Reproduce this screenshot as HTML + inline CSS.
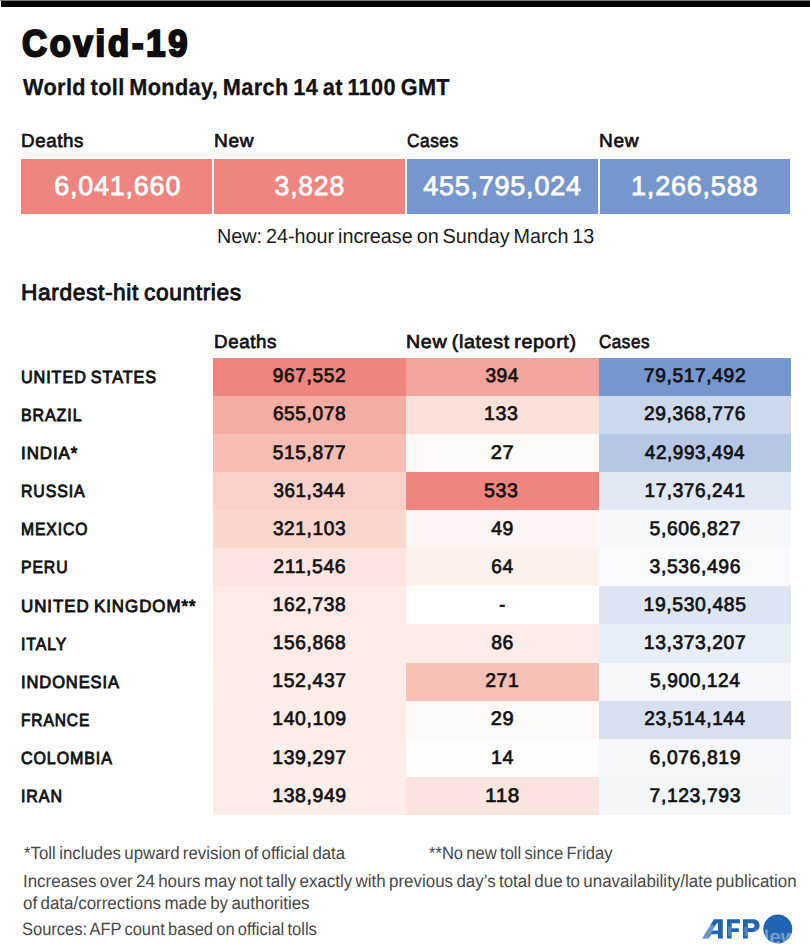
<!DOCTYPE html><html><head><meta charset="utf-8"><style>
*{margin:0;padding:0;box-sizing:border-box}html,body{width:810px;height:950px;background:#fff;overflow:hidden}
body{position:relative;font-family:"Liberation Sans", sans-serif;text-rendering:geometricPrecision}
.r{position:absolute}
.t{position:absolute;white-space:nowrap;word-spacing:-0.08em}
.t span{display:inline-block}
.rg{font-weight:400}.sb{font-weight:400}.bk{font-weight:700}
</style></head><body>
<div class="r" style="left:0;top:0;width:810px;height:1px;background:#808080"></div>
<div class="r" style="left:1px;top:1px;width:809px;height:6px;background:#000"></div>
<div class="r" style="left:21px;top:159px;width:191px;height:55px;background:#f0847e"></div>
<div class="r" style="left:214px;top:159px;width:191px;height:55px;background:#f0847e"></div>
<div class="r" style="left:407px;top:159px;width:190.5px;height:55px;background:#7697ce"></div>
<div class="r" style="left:599.7px;top:159px;width:190.3px;height:55px;background:#7697ce"></div>
<div class="r" style="left:213px;top:358px;width:193px;height:38px;background:#f0847e"></div>
<div class="r" style="left:406px;top:358px;width:192.5px;height:38px;background:#f4a49b"></div>
<div class="r" style="left:598.5px;top:358px;width:192.5px;height:38px;background:#7697ce"></div>
<div class="r" style="left:213px;top:396px;width:193px;height:38px;background:#f5aca2"></div>
<div class="r" style="left:406px;top:396px;width:192.5px;height:38px;background:#fbe0da"></div>
<div class="r" style="left:598.5px;top:396px;width:192.5px;height:38px;background:#ccd9ed"></div>
<div class="r" style="left:213px;top:434px;width:193px;height:38px;background:#f7bdb4"></div>
<div class="r" style="left:406px;top:434px;width:192.5px;height:38px;background:#fef9f7"></div>
<div class="r" style="left:598.5px;top:434px;width:192.5px;height:38px;background:#b5c7e5"></div>
<div class="r" style="left:213px;top:472px;width:193px;height:38px;background:#f9d1c9"></div>
<div class="r" style="left:406px;top:472px;width:192.5px;height:38px;background:#f0847e"></div>
<div class="r" style="left:598.5px;top:472px;width:192.5px;height:38px;background:#e1e8f4"></div>
<div class="r" style="left:213px;top:510px;width:193px;height:38px;background:#fad6cf"></div>
<div class="r" style="left:406px;top:510px;width:192.5px;height:38px;background:#fef4f1"></div>
<div class="r" style="left:598.5px;top:510px;width:192.5px;height:38px;background:#f5f8fc"></div>
<div class="r" style="left:213px;top:548px;width:193px;height:38px;background:#fce4df"></div>
<div class="r" style="left:406px;top:548px;width:192.5px;height:38px;background:#fdf0ed"></div>
<div class="r" style="left:598.5px;top:548px;width:192.5px;height:38px;background:#f9fafd"></div>
<div class="r" style="left:213px;top:586px;width:193px;height:38px;background:#fceae6"></div>
<div class="r" style="left:406px;top:586px;width:192.5px;height:38px;background:#ffffff"></div>
<div class="r" style="left:598.5px;top:586px;width:192.5px;height:38px;background:#dde5f3"></div>
<div class="r" style="left:213px;top:624px;width:193px;height:39px;background:#fdebe7"></div>
<div class="r" style="left:406px;top:624px;width:192.5px;height:39px;background:#fdebe7"></div>
<div class="r" style="left:598.5px;top:624px;width:192.5px;height:39px;background:#e8eef7"></div>
<div class="r" style="left:213px;top:663px;width:193px;height:38px;background:#fdece7"></div>
<div class="r" style="left:406px;top:663px;width:192.5px;height:38px;background:#f7c0b7"></div>
<div class="r" style="left:598.5px;top:663px;width:192.5px;height:38px;background:#f5f7fb"></div>
<div class="r" style="left:213px;top:701px;width:193px;height:38px;background:#fdede9"></div>
<div class="r" style="left:406px;top:701px;width:192.5px;height:38px;background:#fef8f7"></div>
<div class="r" style="left:598.5px;top:701px;width:192.5px;height:38px;background:#d6e0f1"></div>
<div class="r" style="left:213px;top:739px;width:193px;height:38px;background:#fdede9"></div>
<div class="r" style="left:406px;top:739px;width:192.5px;height:38px;background:#fffcfb"></div>
<div class="r" style="left:598.5px;top:739px;width:192.5px;height:38px;background:#f5f7fb"></div>
<div class="r" style="left:213px;top:777px;width:193px;height:38px;background:#fdedea"></div>
<div class="r" style="left:406px;top:777px;width:192.5px;height:38px;background:#fce4de"></div>
<div class="r" style="left:598.5px;top:777px;width:192.5px;height:38px;background:#f3f6fb"></div>
<div class="t bk" id="title" style="font-size:37.2px;line-height:37.2px;height:37.2px;color:#0d0d0d;top:25.36px;-webkit-text-stroke:2.3px #0d0d0d;letter-spacing:3px;left:22.38px;"><span style="transform:scaleX(0.9289);transform-origin:0 0">Covid-19</span></div>
<div class="t bk" id="sub" style="font-size:23.2px;line-height:23.2px;height:23.2px;color:#111;top:75.81px;-webkit-text-stroke:0.3px #111;letter-spacing:0.4px;left:22.52px;"><span style="transform:scaleX(0.9351);transform-origin:0 0">World toll Monday, March 14 at 1100 GMT</span></div>
<div class="t sb" id="lab0" style="font-size:18.8px;line-height:18.8px;height:18.8px;color:#111;top:132.34px;-webkit-text-stroke:0.7px #111;letter-spacing:0.6px;left:20.91px;"><span style="transform:scaleX(0.9981);transform-origin:0 0">Deaths</span></div>
<div class="t sb" id="lab1" style="font-size:18.8px;line-height:18.8px;height:18.8px;color:#111;top:132.34px;-webkit-text-stroke:0.7px #111;letter-spacing:0.6px;left:213.53px;"><span style="transform:scaleX(1.0180);transform-origin:0 0">New</span></div>
<div class="t sb" id="lab2" style="font-size:18.8px;line-height:18.8px;height:18.8px;color:#111;top:132.34px;-webkit-text-stroke:0.7px #111;letter-spacing:0.6px;left:406.76px;"><span style="transform:scaleX(0.9189);transform-origin:0 0">Cases</span></div>
<div class="t sb" id="lab3" style="font-size:18.8px;line-height:18.8px;height:18.8px;color:#111;top:132.34px;-webkit-text-stroke:0.7px #111;letter-spacing:0.6px;left:598.53px;"><span style="transform:scaleX(1.0180);transform-origin:0 0">New</span></div>
<div class="t sb" id="big0" style="font-size:27px;line-height:27px;height:27px;color:#ffffff;top:172.94px;-webkit-text-stroke:0.8px #ffffff;letter-spacing:0.8px;left:-32.24px;width:300px;text-align:center;"><span style="transform:scaleX(0.9980);transform-origin:50% 0">6,041,660</span></div>
<div class="t sb" id="big1" style="font-size:27px;line-height:27px;height:27px;color:#ffffff;top:172.94px;-webkit-text-stroke:0.8px #ffffff;letter-spacing:0.8px;left:159.93px;width:300px;text-align:center;"><span style="transform:scaleX(0.9832);transform-origin:50% 0">3,828</span></div>
<div class="t sb" id="big2" style="font-size:27px;line-height:27px;height:27px;color:#ffffff;top:172.94px;-webkit-text-stroke:0.8px #ffffff;letter-spacing:0.8px;left:352.62px;width:300px;text-align:center;"><span style="transform:scaleX(0.9964);transform-origin:50% 0">455,795,024</span></div>
<div class="t sb" id="big3" style="font-size:27px;line-height:27px;height:27px;color:#ffffff;top:172.94px;-webkit-text-stroke:0.8px #ffffff;letter-spacing:0.8px;left:544.77px;width:300px;text-align:center;"><span style="transform:scaleX(0.9989);transform-origin:50% 0">1,266,588</span></div>
<div class="t rg" id="note" style="font-size:20.5px;line-height:20.5px;height:20.5px;color:#1a1a1a;top:226.65px;left:216.96px;"><span style="transform:scaleX(0.9644);transform-origin:0 0">New: 24-hour increase on Sunday March 13</span></div>
<div class="t sb" id="hh" style="font-size:22.7px;line-height:22.7px;height:22.7px;color:#111;top:280.83px;-webkit-text-stroke:0.9px #111;letter-spacing:0.6px;left:20.96px;"><span style="transform:scaleX(1.0030);transform-origin:0 0">Hardest-hit countries</span></div>
<div class="t sb" id="th0" style="font-size:18.8px;line-height:18.8px;height:18.8px;color:#111;top:332.74px;-webkit-text-stroke:0.7px #111;letter-spacing:0.6px;left:213.72px;"><span style="transform:scaleX(0.9981);transform-origin:0 0">Deaths</span></div>
<div class="t sb" id="th1" style="font-size:18.8px;line-height:18.8px;height:18.8px;color:#111;top:332.74px;-webkit-text-stroke:0.7px #111;letter-spacing:0.6px;left:406.10px;"><span style="transform:scaleX(1.0476);transform-origin:0 0">New (latest report)</span></div>
<div class="t sb" id="th2" style="font-size:18.8px;line-height:18.8px;height:18.8px;color:#111;top:332.74px;-webkit-text-stroke:0.7px #111;letter-spacing:0.6px;left:599.43px;"><span style="transform:scaleX(0.9059);transform-origin:0 0">Cases</span></div>
<div class="t sb" id="c0" style="font-size:17.7px;line-height:17.7px;height:17.7px;color:#111;top:368.77px;-webkit-text-stroke:0.9px #111;letter-spacing:1px;left:21.43px;"><span style="transform:scaleX(0.9152);transform-origin:0 0">UNITED STATES</span></div>
<div class="t sb" id="n0_0" style="font-size:19.6px;line-height:19.6px;height:19.6px;color:#111;top:367.26px;-webkit-text-stroke:0.7px #111;letter-spacing:0.6px;left:159.50px;width:300px;text-align:center;"><span style="transform:scaleX(0.9775);transform-origin:50% 0">967,552</span></div>
<div class="t sb" id="n0_1" style="font-size:19.6px;line-height:19.6px;height:19.6px;color:#111;top:367.26px;-webkit-text-stroke:0.7px #111;letter-spacing:0.6px;left:352.02px;width:300px;text-align:center;"><span style="transform:scaleX(0.9780);transform-origin:50% 0">394</span></div>
<div class="t sb" id="n0_2" style="font-size:19.6px;line-height:19.6px;height:19.6px;color:#111;top:367.26px;-webkit-text-stroke:0.7px #111;letter-spacing:0.6px;left:545.42px;width:300px;text-align:center;"><span style="transform:scaleX(0.9834);transform-origin:50% 0">79,517,492</span></div>
<div class="t sb" id="c1" style="font-size:17.7px;line-height:17.7px;height:17.7px;color:#111;top:406.90px;-webkit-text-stroke:0.9px #111;letter-spacing:1px;left:21.43px;"><span style="transform:scaleX(0.9045);transform-origin:0 0">BRAZIL</span></div>
<div class="t sb" id="n1_0" style="font-size:19.6px;line-height:19.6px;height:19.6px;color:#111;top:405.39px;-webkit-text-stroke:0.7px #111;letter-spacing:0.6px;left:159.50px;width:300px;text-align:center;"><span style="transform:scaleX(0.9764);transform-origin:50% 0">655,078</span></div>
<div class="t sb" id="n1_1" style="font-size:19.6px;line-height:19.6px;height:19.6px;color:#111;top:405.39px;-webkit-text-stroke:0.7px #111;letter-spacing:0.6px;left:351.57px;width:300px;text-align:center;"><span style="transform:scaleX(0.9992);transform-origin:50% 0">133</span></div>
<div class="t sb" id="n1_2" style="font-size:19.6px;line-height:19.6px;height:19.6px;color:#111;top:405.39px;-webkit-text-stroke:0.7px #111;letter-spacing:0.6px;left:545.42px;width:300px;text-align:center;"><span style="transform:scaleX(0.9804);transform-origin:50% 0">29,368,776</span></div>
<div class="t sb" id="c2" style="font-size:17.7px;line-height:17.7px;height:17.7px;color:#111;top:445.03px;-webkit-text-stroke:0.9px #111;letter-spacing:1px;left:20.53px;"><span style="transform:scaleX(0.9552);transform-origin:0 0">INDIA*</span></div>
<div class="t sb" id="n2_0" style="font-size:19.6px;line-height:19.6px;height:19.6px;color:#111;top:443.52px;-webkit-text-stroke:0.7px #111;letter-spacing:0.6px;left:159.50px;width:300px;text-align:center;"><span style="transform:scaleX(0.9769);transform-origin:50% 0">515,877</span></div>
<div class="t sb" id="n2_1" style="font-size:19.6px;line-height:19.6px;height:19.6px;color:#111;top:443.52px;-webkit-text-stroke:0.7px #111;letter-spacing:0.6px;left:352.48px;width:300px;text-align:center;"><span style="transform:scaleX(1.0222);transform-origin:50% 0">27</span></div>
<div class="t sb" id="n2_2" style="font-size:19.6px;line-height:19.6px;height:19.6px;color:#111;top:443.52px;-webkit-text-stroke:0.7px #111;letter-spacing:0.6px;left:545.42px;width:300px;text-align:center;"><span style="transform:scaleX(0.9641);transform-origin:50% 0">42,993,494</span></div>
<div class="t sb" id="c3" style="font-size:17.7px;line-height:17.7px;height:17.7px;color:#111;top:483.16px;-webkit-text-stroke:0.9px #111;letter-spacing:1px;left:21.43px;"><span style="transform:scaleX(0.8984);transform-origin:0 0">RUSSIA</span></div>
<div class="t sb" id="n3_0" style="font-size:19.6px;line-height:19.6px;height:19.6px;color:#111;top:481.65px;-webkit-text-stroke:0.7px #111;letter-spacing:0.6px;left:159.05px;width:300px;text-align:center;"><span style="transform:scaleX(0.9622);transform-origin:50% 0">361,344</span></div>
<div class="t sb" id="n3_1" style="font-size:19.6px;line-height:19.6px;height:19.6px;color:#111;top:481.65px;-webkit-text-stroke:0.7px #111;letter-spacing:0.6px;left:351.57px;width:300px;text-align:center;"><span style="transform:scaleX(0.9992);transform-origin:50% 0">533</span></div>
<div class="t sb" id="n3_2" style="font-size:19.6px;line-height:19.6px;height:19.6px;color:#111;top:481.65px;-webkit-text-stroke:0.7px #111;letter-spacing:0.6px;left:544.98px;width:300px;text-align:center;"><span style="transform:scaleX(0.9718);transform-origin:50% 0">17,376,241</span></div>
<div class="t sb" id="c4" style="font-size:17.7px;line-height:17.7px;height:17.7px;color:#111;top:521.29px;-webkit-text-stroke:0.9px #111;letter-spacing:1px;left:21.43px;"><span style="transform:scaleX(0.8873);transform-origin:0 0">MEXICO</span></div>
<div class="t sb" id="n4_0" style="font-size:19.6px;line-height:19.6px;height:19.6px;color:#111;top:519.78px;-webkit-text-stroke:0.7px #111;letter-spacing:0.6px;left:159.50px;width:300px;text-align:center;"><span style="transform:scaleX(0.9766);transform-origin:50% 0">321,103</span></div>
<div class="t sb" id="n4_1" style="font-size:19.6px;line-height:19.6px;height:19.6px;color:#111;top:519.78px;-webkit-text-stroke:0.7px #111;letter-spacing:0.6px;left:352.93px;width:300px;text-align:center;"><span style="transform:scaleX(0.9875);transform-origin:50% 0">49</span></div>
<div class="t sb" id="n4_2" style="font-size:19.6px;line-height:19.6px;height:19.6px;color:#111;top:519.78px;-webkit-text-stroke:0.7px #111;letter-spacing:0.6px;left:544.98px;width:300px;text-align:center;"><span style="transform:scaleX(0.9873);transform-origin:50% 0">5,606,827</span></div>
<div class="t sb" id="c5" style="font-size:17.7px;line-height:17.7px;height:17.7px;color:#111;top:559.42px;-webkit-text-stroke:0.9px #111;letter-spacing:1px;left:21.43px;"><span style="transform:scaleX(0.8937);transform-origin:0 0">PERU</span></div>
<div class="t sb" id="n5_0" style="font-size:19.6px;line-height:19.6px;height:19.6px;color:#111;top:557.91px;-webkit-text-stroke:0.7px #111;letter-spacing:0.6px;left:159.95px;width:300px;text-align:center;"><span style="transform:scaleX(0.9920);transform-origin:50% 0">211,546</span></div>
<div class="t sb" id="n5_1" style="font-size:19.6px;line-height:19.6px;height:19.6px;color:#111;top:557.91px;-webkit-text-stroke:0.7px #111;letter-spacing:0.6px;left:352.48px;width:300px;text-align:center;"><span style="transform:scaleX(0.9752);transform-origin:50% 0">64</span></div>
<div class="t sb" id="n5_2" style="font-size:19.6px;line-height:19.6px;height:19.6px;color:#111;top:557.91px;-webkit-text-stroke:0.7px #111;letter-spacing:0.6px;left:544.98px;width:300px;text-align:center;"><span style="transform:scaleX(0.9873);transform-origin:50% 0">3,536,496</span></div>
<div class="t sb" id="c6" style="font-size:17.7px;line-height:17.7px;height:17.7px;color:#111;top:597.55px;-webkit-text-stroke:0.9px #111;letter-spacing:1px;left:21.43px;"><span style="transform:scaleX(0.9559);transform-origin:0 0">UNITED KINGDOM**</span></div>
<div class="t sb" id="n6_0" style="font-size:19.6px;line-height:19.6px;height:19.6px;color:#111;top:596.04px;-webkit-text-stroke:0.7px #111;letter-spacing:0.6px;left:159.50px;width:300px;text-align:center;"><span style="transform:scaleX(0.9775);transform-origin:50% 0">162,738</span></div>
<div class="t sb" id="n6_1" style="font-size:19.6px;line-height:19.6px;height:19.6px;color:#111;top:596.04px;-webkit-text-stroke:0.7px #111;letter-spacing:0.6px;left:352.93px;width:300px;text-align:center;"><span style="transform:scaleX(0.9068);transform-origin:50% 0">-</span></div>
<div class="t sb" id="n6_2" style="font-size:19.6px;line-height:19.6px;height:19.6px;color:#111;top:596.04px;-webkit-text-stroke:0.7px #111;letter-spacing:0.6px;left:544.98px;width:300px;text-align:center;"><span style="transform:scaleX(0.9895);transform-origin:50% 0">19,530,485</span></div>
<div class="t sb" id="c7" style="font-size:17.7px;line-height:17.7px;height:17.7px;color:#111;top:635.68px;-webkit-text-stroke:0.9px #111;letter-spacing:1px;left:20.53px;"><span style="transform:scaleX(0.8955);transform-origin:0 0">ITALY</span></div>
<div class="t sb" id="n7_0" style="font-size:19.6px;line-height:19.6px;height:19.6px;color:#111;top:634.17px;-webkit-text-stroke:0.7px #111;letter-spacing:0.6px;left:159.50px;width:300px;text-align:center;"><span style="transform:scaleX(0.9775);transform-origin:50% 0">156,868</span></div>
<div class="t sb" id="n7_1" style="font-size:19.6px;line-height:19.6px;height:19.6px;color:#111;top:634.17px;-webkit-text-stroke:0.7px #111;letter-spacing:0.6px;left:352.93px;width:300px;text-align:center;"><span style="transform:scaleX(0.9875);transform-origin:50% 0">86</span></div>
<div class="t sb" id="n7_2" style="font-size:19.6px;line-height:19.6px;height:19.6px;color:#111;top:634.17px;-webkit-text-stroke:0.7px #111;letter-spacing:0.6px;left:545.42px;width:300px;text-align:center;"><span style="transform:scaleX(0.9836);transform-origin:50% 0">13,373,207</span></div>
<div class="t sb" id="c8" style="font-size:17.7px;line-height:17.7px;height:17.7px;color:#111;top:673.81px;-webkit-text-stroke:0.9px #111;letter-spacing:1px;left:20.53px;"><span style="transform:scaleX(0.9305);transform-origin:0 0">INDONESIA</span></div>
<div class="t sb" id="n8_0" style="font-size:19.6px;line-height:19.6px;height:19.6px;color:#111;top:672.30px;-webkit-text-stroke:0.7px #111;letter-spacing:0.6px;left:159.05px;width:300px;text-align:center;"><span style="transform:scaleX(0.9912);transform-origin:50% 0">152,437</span></div>
<div class="t sb" id="n8_1" style="font-size:19.6px;line-height:19.6px;height:19.6px;color:#111;top:672.30px;-webkit-text-stroke:0.7px #111;letter-spacing:0.6px;left:352.02px;width:300px;text-align:center;"><span style="transform:scaleX(0.9885);transform-origin:50% 0">271</span></div>
<div class="t sb" id="n8_2" style="font-size:19.6px;line-height:19.6px;height:19.6px;color:#111;top:672.30px;-webkit-text-stroke:0.7px #111;letter-spacing:0.6px;left:545.42px;width:300px;text-align:center;"><span style="transform:scaleX(0.9770);transform-origin:50% 0">5,900,124</span></div>
<div class="t sb" id="c9" style="font-size:17.7px;line-height:17.7px;height:17.7px;color:#111;top:711.94px;-webkit-text-stroke:0.9px #111;letter-spacing:1px;left:21.43px;"><span style="transform:scaleX(0.8783);transform-origin:0 0">FRANCE</span></div>
<div class="t sb" id="n9_0" style="font-size:19.6px;line-height:19.6px;height:19.6px;color:#111;top:710.43px;-webkit-text-stroke:0.7px #111;letter-spacing:0.6px;left:159.05px;width:300px;text-align:center;"><span style="transform:scaleX(0.9912);transform-origin:50% 0">140,109</span></div>
<div class="t sb" id="n9_1" style="font-size:19.6px;line-height:19.6px;height:19.6px;color:#111;top:710.43px;-webkit-text-stroke:0.7px #111;letter-spacing:0.6px;left:352.48px;width:300px;text-align:center;"><span style="transform:scaleX(1.0222);transform-origin:50% 0">29</span></div>
<div class="t sb" id="n9_2" style="font-size:19.6px;line-height:19.6px;height:19.6px;color:#111;top:710.43px;-webkit-text-stroke:0.7px #111;letter-spacing:0.6px;left:544.98px;width:300px;text-align:center;"><span style="transform:scaleX(0.9747);transform-origin:50% 0">23,514,144</span></div>
<div class="t sb" id="c10" style="font-size:17.7px;line-height:17.7px;height:17.7px;color:#111;top:750.07px;-webkit-text-stroke:0.9px #111;letter-spacing:1px;left:21.43px;"><span style="transform:scaleX(0.9052);transform-origin:0 0">COLOMBIA</span></div>
<div class="t sb" id="n10_0" style="font-size:19.6px;line-height:19.6px;height:19.6px;color:#111;top:748.56px;-webkit-text-stroke:0.7px #111;letter-spacing:0.6px;left:159.05px;width:300px;text-align:center;"><span style="transform:scaleX(0.9912);transform-origin:50% 0">139,297</span></div>
<div class="t sb" id="n10_1" style="font-size:19.6px;line-height:19.6px;height:19.6px;color:#111;top:748.56px;-webkit-text-stroke:0.7px #111;letter-spacing:0.6px;left:352.02px;width:300px;text-align:center;"><span style="transform:scaleX(1.0064);transform-origin:50% 0">14</span></div>
<div class="t sb" id="n10_2" style="font-size:19.6px;line-height:19.6px;height:19.6px;color:#111;top:748.56px;-webkit-text-stroke:0.7px #111;letter-spacing:0.6px;left:544.98px;width:300px;text-align:center;"><span style="transform:scaleX(0.9873);transform-origin:50% 0">6,076,819</span></div>
<div class="t sb" id="c11" style="font-size:17.7px;line-height:17.7px;height:17.7px;color:#111;top:788.20px;-webkit-text-stroke:0.9px #111;letter-spacing:1px;left:20.53px;"><span style="transform:scaleX(0.9044);transform-origin:0 0">IRAN</span></div>
<div class="t sb" id="n11_0" style="font-size:19.6px;line-height:19.6px;height:19.6px;color:#111;top:786.69px;-webkit-text-stroke:0.7px #111;letter-spacing:0.6px;left:159.05px;width:300px;text-align:center;"><span style="transform:scaleX(0.9912);transform-origin:50% 0">138,949</span></div>
<div class="t sb" id="n11_1" style="font-size:19.6px;line-height:19.6px;height:19.6px;color:#111;top:786.69px;-webkit-text-stroke:0.7px #111;letter-spacing:0.6px;left:352.48px;width:300px;text-align:center;"><span style="transform:scaleX(1.0565);transform-origin:50% 0">118</span></div>
<div class="t sb" id="n11_2" style="font-size:19.6px;line-height:19.6px;height:19.6px;color:#111;top:786.69px;-webkit-text-stroke:0.7px #111;letter-spacing:0.6px;left:544.98px;width:300px;text-align:center;"><span style="transform:scaleX(0.9873);transform-origin:50% 0">7,123,793</span></div>
<div class="t rg" id="f1" style="font-size:17.8px;line-height:17.8px;height:17.8px;color:#484848;top:845.23px;left:23.81px;"><span style="transform:scaleX(0.9473);transform-origin:0 0">*Toll includes upward revision of official data</span></div>
<div class="t rg" id="f2" style="font-size:17.8px;line-height:17.8px;height:17.8px;color:#484848;top:845.23px;left:429.38px;"><span style="transform:scaleX(0.9320);transform-origin:0 0">**No new toll since Friday</span></div>
<div class="t rg" id="f3" style="font-size:17.8px;line-height:17.8px;height:17.8px;color:#484848;top:872.53px;left:22.91px;"><span style="transform:scaleX(0.9521);transform-origin:0 0">Increases over 24 hours may not tally exactly with previous day’s total due to unavailability/late publication</span></div>
<div class="t rg" id="f4" style="font-size:17.8px;line-height:17.8px;height:17.8px;color:#484848;top:894.73px;left:23.38px;"><span style="transform:scaleX(0.9531);transform-origin:0 0">of data/corrections made by authorities</span></div>
<div class="t rg" id="f5" style="font-size:17.8px;line-height:17.8px;height:17.8px;color:#484848;top:921.03px;left:22.15px;"><span style="transform:scaleX(0.9273);transform-origin:0 0">Sources: AFP count based on official tolls</span></div>
<svg class="r" style="left:0;top:0" width="810" height="950" viewBox="0 0 810 950">
<g fill="#2063b1">
<path fill-rule="evenodd" d="M702.2 938.6 L713.9 919.2 H722.8 V938.6 H718 V934.2 H711.4 L708.7 938.6 Z M712.5 930.6 H718 V923.3 H716.9 Z"/>
<polygon points="727,919.2 740,919.2 740,923.3 731.7,923.3 731.7,928.2 738.9,928.2 738.9,932 731.7,932 731.7,938.6 727,938.6"/>
<path fill-rule="evenodd" d="M743 919.2 H752.6 C757.2 919.2 759.6 921.9 759.6 925.6 C759.6 929.4 757.2 932 752.6 932 H747.8 V938.4 H743 Z M747.8 923.2 V928 H752.2 C753.7 928 754.6 927.1 754.6 925.6 C754.6 924.1 753.7 923.2 752.2 923.2 Z"/>
<circle cx="777.8" cy="929" r="14.5"/>
</g>
<polygon points="710.2,925.2 715.6,925.2 708.4,938.8 702,938.8" fill="#fff" fill-opacity="0.33"/>
<rect x="727.8" y="926.5" width="3.6" height="9.5" fill="#fff" fill-opacity="0.22"/>
<rect x="744.5" y="927" width="3" height="9" fill="#fff" fill-opacity="0.22"/>
<text x="754" y="943.5" font-family="Liberation Sans" font-weight="700" font-size="21" fill="#fff" fill-opacity="0.38">News</text>
</svg>
</body></html>
